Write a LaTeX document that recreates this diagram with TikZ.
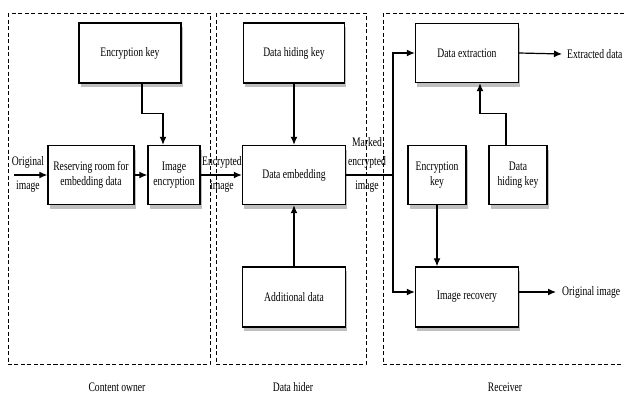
\documentclass[tikz,border=0pt]{standalone}
\usepackage{fontspec}
\setmainfont{Liberation Serif}[FakeStretch=0.74]
\usetikzlibrary{arrows.meta,shadows}
\begin{document}
\begin{tikzpicture}[x=1pt,y=-1pt,
  txt/.style={font=\fontsize{13}{15}\selectfont,align=center,inner sep=0pt},
  blk/.style={txt,draw,line width=1.4pt,fill=white,
    drop shadow={shadow xshift=1.5pt,shadow yshift=-4pt,opacity=0.5}},
  frame/.style={draw,line width=1pt,dash pattern=on 4pt off 2.5pt},
  arr/.style={line width=1.2pt,-{Latex[length=8pt,width=7pt]}},
  ln/.style={line width=1.2pt}]
\useasboundingbox (0,0) rectangle (624,399);
% frames
\draw[frame] (8,13) rectangle (210,364);
\draw[frame] (216,13) rectangle (366,364);
\draw[frame] (383,13) rectangle (640,364);
\node[txt] (lco) at (117,387) {Content owner};
\node[txt] (ldh) at (293,387) {Data hider};
\node[txt] (lrc) at (505,387) {Receiver};
% content owner
\node[blk,minimum width=102pt,minimum height=60pt] (ek) at (130,53) {Encryption key};
\node[blk,minimum width=86pt,minimum height=59pt] (rr) at (91,175) {Reserving room for\\embedding data};
\node[blk,minimum width=52pt,minimum height=59pt] (ie) at (174,175) {Image\\encryption};
% data hider
\node[blk,minimum width=101pt,minimum height=60pt] (dhk) at (294,53) {Data hiding key};
\node[blk,minimum width=103pt,minimum height=59pt] (de) at (294,175) {Data embedding};
\node[blk,minimum width=103pt,minimum height=60pt] (ad) at (294,297) {Additional data};
% receiver
\node[blk,minimum width=103pt,minimum height=59pt] (dx) at (467,53) {Data extraction};
\node[blk,minimum width=58pt,minimum height=59pt] (rek) at (437,175) {Encryption\\key};
\node[blk,minimum width=58pt,minimum height=59pt] (rdhk) at (518,175) {Data\\hiding key};
\node[blk,minimum width=103pt,minimum height=60pt] (ir) at (467,297) {Image recovery};
% texts
\coordinate (oin) at (14,175);
\node[txt] (lorig1) at (28,162) {Original};
\node[txt] (lorig2) at (28,187) {image};
\node[txt] (lenc1) at (222,162) {Encrypted};
\node[txt] (lenc2) at (222,187) {image};
\node[txt] (lm1) at (367,142) {Marked};
\node[txt] (lm2) at (367,162) {encrypted};
\node[txt] (lm3) at (367,187) {image};
\node[txt,anchor=west] (oxd) at (567,54) {Extracted data};
\node[txt,anchor=west] (ooi) at (562,292) {Original image};
\coordinate (split) at (393,175);
% connectors
\draw[arr] (oin) -- (rr.west);
\draw[arr] (rr.east) -- (ie.west);
\draw[arr] ([xshift=12pt]ek.south) -- ++(0,30) -| ([xshift=-11pt]ie.north);
\draw[arr] (ie.east) -- (de.west);
\draw[arr] (dhk.south) -- (de.north);
\draw[arr] (ad.north) -- (de.south);
\draw[ln] (de.east) -- (split);
\draw[arr] (split) |- (dx.west);
\draw[arr] (split) |- ([yshift=5pt]ir.west);
\draw[arr] (dx.east) -- ([xshift=-5pt]oxd.west);
\draw[arr] ([yshift=5pt]ir.east) -- ([xshift=-6pt]ooi.west);
\draw[arr] ([xshift=-12pt]rdhk.north) -- ++(0,-31) -| ([xshift=13pt]dx.south);
\draw[arr] (rek.south) -- (ir.north -| rek.south);
\end{tikzpicture}
\end{document}
